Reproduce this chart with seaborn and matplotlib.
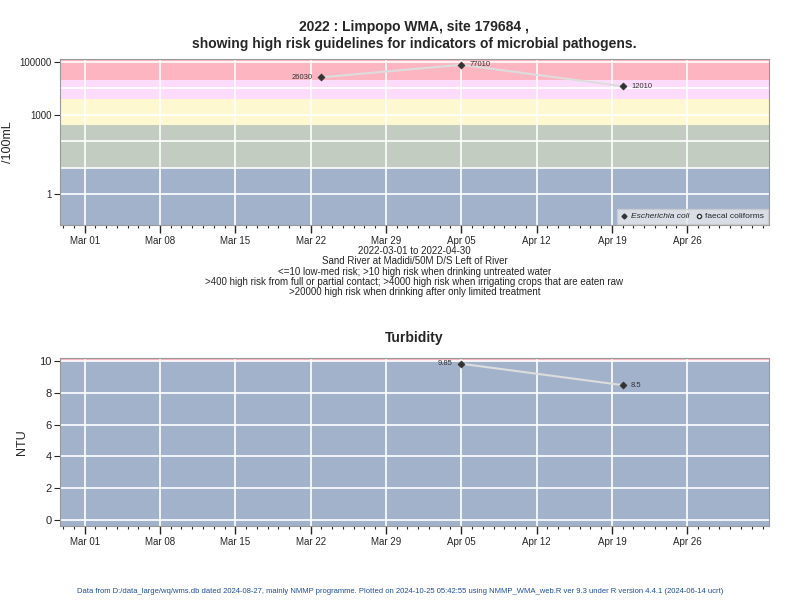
import numpy as np
import pandas as pd
import seaborn as sns
import matplotlib.pyplot as plt
import matplotlib.dates as mdates
from matplotlib.lines import Line2D

sns.set_style("ticks")
plt.rcParams['font.family'] = ['Liberation Sans', 'DejaVu Sans']

# data
ecoli_dates = ['2022-03-23', '2022-04-05', '2022-04-20']
ecoli_vals = [26030, 77010, 12010]
ecoli_labels = ['26030', '77010', '12010']
turb_dates = ['2022-04-05', '2022-04-20']
turb_vals = [9.85, 8.5]
turb_labels = ['9.85', '8.5']
tick_dates = ['2022-03-01', '2022-03-08', '2022-03-15', '2022-03-22', '2022-03-29',
              '2022-04-05', '2022-04-12', '2022-04-19', '2022-04-26']

ecoli = pd.DataFrame({'date': pd.to_datetime(ecoli_dates), 'val': ecoli_vals})
turb = pd.DataFrame({'date': pd.to_datetime(turb_dates), 'val': turb_vals})
xmin, xmax = pd.Timestamp('2022-02-26 17:00'), pd.Timestamp('2022-05-03 14:00')

fig = plt.figure(figsize=(8, 6), dpi=100)
ax1 = fig.add_axes([0.075, 0.625, 0.886, 0.277])
ax2 = fig.add_axes([0.075, 0.123, 0.886, 0.28])

def style_x(ax):
    ax.set_xlim(xmin, xmax)
    ax.set_xticks(pd.to_datetime(tick_dates))
    ax.xaxis.set_major_formatter(mdates.DateFormatter('%b %d'))
    ax.xaxis.set_minor_locator(mdates.DayLocator())
    ax.tick_params(axis='x', which='major', length=6, width=1, labelsize=7, pad=2, bottom=True)
    ax.tick_params(axis='x', which='minor', length=2, width=0.8, bottom=True)
    ax.tick_params(axis='y', which='major', length=4, labelsize=7, pad=2, left=True)
    for s in ax.spines.values():
        s.set_color('#999999')
    ax.set_xlabel('')
    ax.grid(True, color='white', lw=1.2)

# top panel: microbial bands
ax1.set_yscale('log')
ax1.set_ylim(0.068, 130000)
bands = [(0.01, 10, '#a2b2cb'), (10, 400, '#c3ccc1'), (400, 4000, '#fdf8cf'),
         (4000, 20000, '#fddcfb'), (20000, 1e6, '#fdb6c1')]
for lo, hi, c in bands:
    ax1.axhspan(lo, hi, color=c, zorder=0, lw=0)
for g in [10, 100, 10000]:
    ax1.axhline(g, color='white', lw=1.2, zorder=1)
sns.lineplot(data=ecoli, x='date', y='val', ax=ax1, color='#dddddd', lw=1.5, zorder=3)
sns.scatterplot(data=ecoli, x='date', y='val', ax=ax1, marker='D', color='#333333',
                s=14, zorder=4, edgecolor='#333333')
offs = [(-6, 'right'), (6, 'left'), (6, 'left')]
for d, v, t, (o, ha) in zip(ecoli['date'], ecoli_vals, ecoli_labels, offs):
    ax1.annotate(t, (d, v), xytext=(o, 0), textcoords='offset points', ha=ha,
                 va='center', fontsize=5.5, color='#333333', zorder=5)
ax1.set_yticks([1, 1000, 100000])
ax1.set_yticklabels(['1', '1000', '100000'])
ax1.yaxis.set_minor_locator(plt.NullLocator())
ax1.set_ylabel('/100mL', fontsize=9, labelpad=4)
style_x(ax1)
h = [Line2D([], [], marker='D', ls='', color='#333333', ms=2.5, label='Escherichia coli'),
     Line2D([], [], marker='o', ls='', mfc='white', mec='#333333', ms=3, label='faecal coliforms')]
leg = ax1.legend(handles=h, loc='lower right', ncol=2, fontsize=6, frameon=True,
                 fancybox=False, handletextpad=0.3, columnspacing=0.6,
                 borderaxespad=0.15, handlelength=1)
leg.get_frame().set_facecolor('#e6e9ee')
leg.get_frame().set_edgecolor('#cccccc')
leg.get_texts()[0].set_style('italic')
ax1.set_title('2022 : Limpopo WMA, site 179684 ,\nshowing high risk guidelines for indicators of microbial pathogens.',
              fontsize=10, fontweight='bold', pad=8)
ax1.text(0.5, -0.125, '2022-03-01 to 2022-04-30\nSand River at Madidi/50M D/S Left of River\n'
         '<=10 low-med risk; >10 high risk when drinking untreated water\n'
         '>400 high risk from full or partial contact; >4000 high risk when irrigating crops that are eaten raw\n'
         '>20000 high risk when drinking after only limited treatment',
         transform=ax1.transAxes, ha='center', va='top', fontsize=7, linespacing=1.05)

# bottom panel: turbidity
ax2.set_ylim(-0.4, 10.2)
ax2.axhspan(-5, 10, color='#a2b2cb', zorder=0, lw=0)
ax2.axhspan(10, 20, color='#fdb6c1', zorder=0, lw=0)
sns.lineplot(data=turb, x='date', y='val', ax=ax2, color='#dddddd', lw=1.5, zorder=3)
sns.scatterplot(data=turb, x='date', y='val', ax=ax2, marker='D', color='#333333',
                s=14, zorder=4, edgecolor='#333333')
offs2 = [(-6, 'right'), (6, 'left')]
for d, v, t, (o, ha) in zip(turb['date'], turb_vals, turb_labels, offs2):
    ax2.annotate(t, (d, v), xytext=(o, 0), textcoords='offset points', ha=ha,
                 va='center', fontsize=5.5, color='#333333', zorder=5)
ax2.set_yticks([0, 2, 4, 6, 8, 10])
ax2.set_ylabel('NTU', fontsize=9, labelpad=8)
style_x(ax2)
ax2.tick_params(axis='y', labelsize=8)
ax2.set_title('Turbidity', fontsize=10, fontweight='bold', pad=12)

fig.text(0.5, 0.012, 'Data from D:/data_large/wq/wms.db dated 2024-08-27, mainly NMMP programme. '
         'Plotted on 2024-10-25 05:42:55 using NMMP_WMA_web.R ver 9.3 under R version 4.4.1 (2024-06-14 ucrt)',
         ha='center', fontsize=5.5, color='#1f4e99')

fig.savefig('out.png', dpi=100)
